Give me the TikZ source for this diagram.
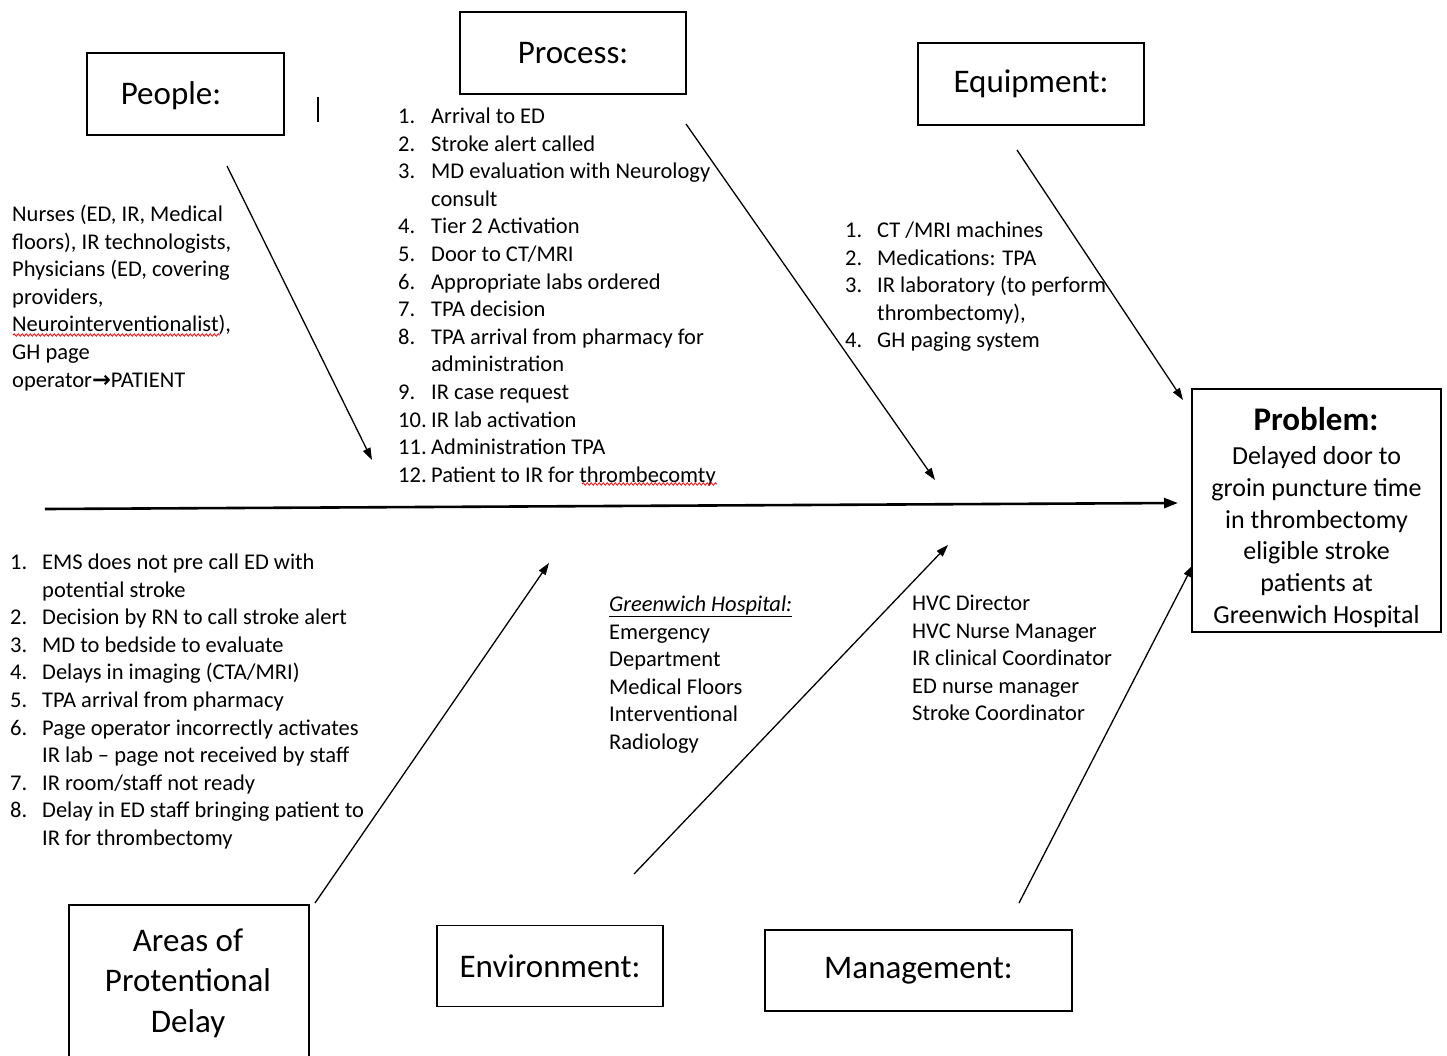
\documentclass[tikz,border=0pt]{standalone}
\usepackage{fontspec}
\setmainfont{Carlito}
\newfontfamily\arrowfont{DejaVu Sans}
\usetikzlibrary{arrows.meta,decorations.pathmorphing}
\newcommand{\itnum}[1]{\makebox[33pt][l]{#1}}
\newcommand{\itnumb}[1]{\makebox[32pt][l]{#1}}
\begin{document}
\begin{tikzpicture}[x=1pt,y=-1pt,
  box/.style={draw=black, line width=1.4pt, inner sep=0pt},
  title/.style={font=\fontsize{33}{40.6}\selectfont, inner sep=0pt, align=center},
  body/.style={font=\fontsize{22.5}{27.6}\selectfont, inner sep=0pt, anchor=north west, align=left},
  bone/.style={line width=1.3pt, -{Triangle[length=12pt,width=8pt]}},
  spell/.style={red, line width=0.8pt, decorate, decoration={snake, amplitude=1.2pt, segment length=4pt}}]
\useasboundingbox (0,0) rectangle (1447,1055);
\clip (0,0) rectangle (1447,1055);

% category boxes
\node[box, minimum width=197pt, minimum height=82pt] (people) at (185.5,94) {};
\node[title] (peopleT) at (171,96) {People:};
\node[box, title, minimum width=226pt, minimum height=82pt] (process) at (573,53) {Process:};
\node[box, title, minimum width=226pt, minimum height=82pt] (equip) at (1031,84) {Equipment:};
\node[box, title, minimum width=226pt, minimum height=81pt] (env) at (550,966) {Environment:};
\node[box, title, minimum width=307pt, minimum height=81pt] (mgmt) at (918.5,970.5) {Management:};
\draw[line width=1.4pt] (69,1070) -- (69,905) -- (309,905) -- (309,1070);
\node[title, anchor=north] (areas) at (188,922.5) {\strut Areas of\\\strut Protentional\\\strut Delay};
\draw[line width=1.4pt] (318,97) -- (318,122);

% problem
\node[box, minimum width=249pt, minimum height=243pt] (problem) at (1316.5,510.5) {};
\node[font=\fontsize{33}{40}\selectfont\bfseries, inner sep=0pt] (problemT) at (1316,419) {Problem:};
\node[font=\fontsize{26}{31.8}\selectfont, inner sep=0pt, anchor=north, align=center] (problemB) at (1316.5,442)
 {\strut Delayed door to\\\strut groin puncture time\\\strut in thrombectomy\\\strut eligible stroke\\\strut patients at\\\strut Greenwich Hospital};

% texts
\node[body] (peopleL) at (12,202) {\strut Nurses (ED, IR, Medical\\\strut floors), IR technologists,\\\strut Physicians (ED, covering\\\strut providers,\\\strut Neurointerventionalist),\\\strut GH page\\\strut operator{\arrowfont\bfseries →}PATIENT};
\draw[spell] (13,335) -- (220,335);

\node[body] (procL) at (398,104) {\strut\itnum{1.}Arrival to ED\\
\strut\itnum{2.}Stroke alert called\\
\strut\itnum{3.}MD evaluation with Neurology\\
\strut\hspace*{33pt}consult\\
\strut\itnum{4.}Tier 2 Activation\\
\strut\itnum{5.}Door to CT/MRI\\
\strut\itnum{6.}Appropriate labs ordered\\
\strut\itnum{7.}TPA decision\\
\strut\itnum{8.}TPA arrival from pharmacy for\\
\strut\hspace*{33pt}administration\\
\strut\itnum{9.}IR case request\\
\strut\itnum{10.}IR lab activation\\
\strut\itnum{11.}Administration TPA\\
\strut\itnum{12.}Patient to IR for thrombecomty};
\draw[spell] (582,484) -- (717,484);

\node[body] (equipL) at (845,218) {\strut\itnumb{1.}CT /MRI machines\\
\strut\itnumb{2.}Medications: TPA\\
\strut\itnumb{3.}IR laboratory (to perform\\
\strut\hspace*{32pt}thrombectomy),\\
\strut\itnumb{4.}GH paging system};

\node[body] (areasL) at (10,550) {\strut\itnumb{1.}EMS does not pre call ED with\\
\strut\hspace*{32pt}potential stroke\\
\strut\itnumb{2.}Decision by RN to call stroke alert\\
\strut\itnumb{3.}MD to bedside to evaluate\\
\strut\itnumb{4.}Delays in imaging (CTA/MRI)\\
\strut\itnumb{5.}TPA arrival from pharmacy\\
\strut\itnumb{6.}Page operator incorrectly activates\\
\strut\hspace*{32pt}IR lab -- page not received by staff\\
\strut\itnumb{7.}IR room/staff not ready\\
\strut\itnumb{8.}Delay in ED staff bringing patient to\\
\strut\hspace*{32pt}IR for thrombectomy};

\node[body] (envL) at (609,592) {\strut\underline{\textit{Greenwich Hospital:}}\\
\strut Emergency\\\strut Department\\\strut Medical Floors\\\strut Interventional\\\strut Radiology};

\node[body] (mgmtL) at (912,591) {\strut HVC Director\\\strut HVC Nurse Manager\\\strut IR clinical Coordinator\\\strut ED nurse manager\\\strut Stroke Coordinator};

% spine and bones
\coordinate (spS) at (45,509);
\coordinate (spE) at (1178,503);
\draw[line width=2.6pt, -{Triangle[length=14pt,width=10pt]}] (spS) -- (spE);

\coordinate (pS) at (227,166); \coordinate (pE) at (372,460);
\coordinate (prS) at (686,124); \coordinate (prE) at (935,480);
\coordinate (eS) at (1017,150); \coordinate (eE) at (1183,400);
\coordinate (aS) at (315,903); \coordinate (aE) at (549,563);
\coordinate (enS) at (634,874); \coordinate (enE) at (948,545);
\coordinate (mS) at (1019,903); \coordinate (mE) at (1193,565);
\draw[bone] (pS) -- (pE);
\draw[bone] (prS) -- (prE);
\draw[bone] (eS) -- (eE);
\draw[bone] (aS) -- (aE);
\draw[bone] (enS) -- (enE);
\draw[bone] (mS) -- (mE);
\end{tikzpicture}
\end{document}
